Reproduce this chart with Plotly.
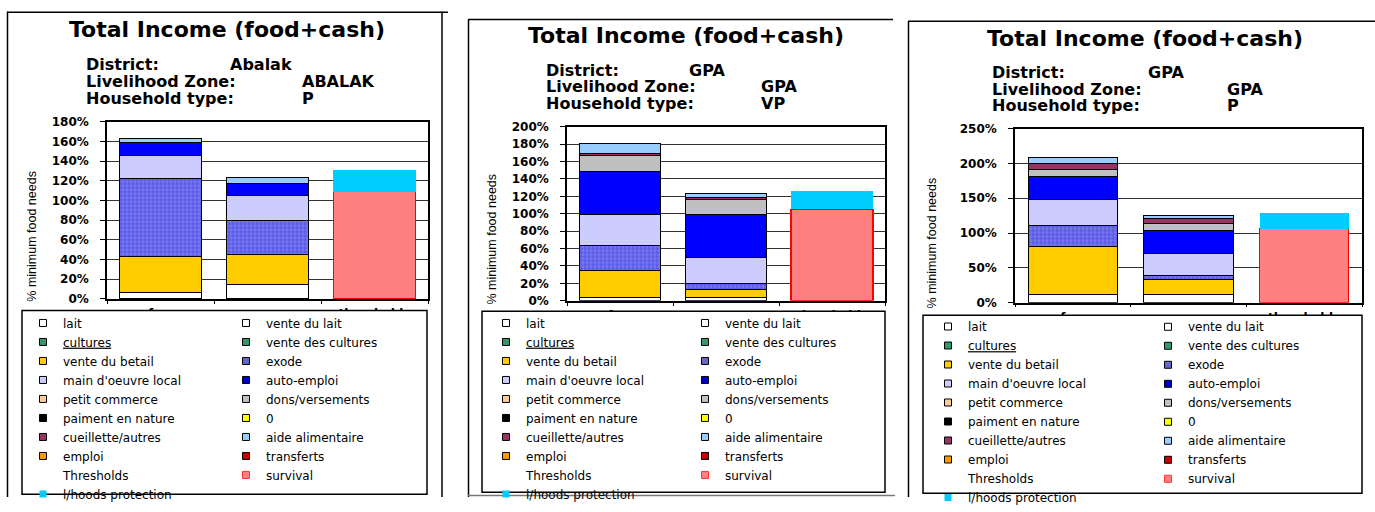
import plotly.graph_objects as go

W, H = 1375, 512

categories = ["ref.year", "curr.year", "thresholds"]
sources = ["lait", "vente du lait", "cultures", "vente des cultures", "vente du betail", "exode",
           "main d'oeuvre local", "auto-emploi", "petit commerce", "dons/versements",
           "paiment en nature", "0", "cueillette/autres", "aide alimentaire", "emploi", "transferts"]
threshold_names = ["survival", "l/hoods protection"]

# values in % of minimum food needs (order of `sources`)
abalak_p_ref = [7, 0, 0, 0, 36.5, 79, 23.5, 13.5, 0, 0, 0, 0, 0, 4, 0, 0]
abalak_p_curr = [14.5, 0, 0, 0, 30.5, 35, 25, 12, 0, 0, 0, 0, 0, 6, 0, 0]
abalak_p_thr = [109, 22]

gpa_vp_ref = [3.5, 0, 0, 0, 31, 29.5, 35.5, 49.5, 0, 18, 0, 0, 2.5, 11, 0, 0]
gpa_vp_curr = [3.5, 0, 0, 0, 9.5, 7, 30, 49.5, 0, 16.5, 0, 0, 2.5, 5, 0, 0]
gpa_vp_thr = [105, 21.5]

gpa_p_ref = [12, 0, 0, 0, 68, 30.5, 38, 32.5, 0, 10, 0, 0, 8.5, 9, 0, 0]
gpa_p_curr = [12, 0, 0, 0, 22, 5, 31, 34, 0, 9, 0, 0, 8, 4.5, 0, 0]
gpa_p_thr = [106.5, 22]

district = ["Abalak", "GPA", "GPA"]
zone = ["ABALAK", "GPA", "GPA"]
hh_type = ["P", "VP", "P"]
y_max = [180, 200, 250]
y_step = [20, 20, 50]

colors = ["#FFFFFF", "#FFFFFF", "#339966", "#339966", "#FFCC00", "#7070EE",
          "#CCCCFF", "#0000FF", "#FFCC99", "#C0C0C0", "#000000", "#FFFF00",
          "#993366", "#99CCFF", "#FF9900", "#FF0000"]
legend_colors = ["#FFFFFF", "#FFFFFF", "#339966", "#339966", "#FFCC00", "#6666CC",
                 "#CCCCFF", "#0000CC", "#FFCC99", "#C0C0C0", "#000000", "#FFFF00",
                 "#993366", "#99CCFF", "#FF9900", "#CC0000"]
thr_colors = ["#FF8080", "#00CCFF"]

panel_data = [(abalak_p_ref, abalak_p_curr, abalak_p_thr),
              (gpa_vp_ref, gpa_vp_curr, gpa_vp_thr),
              (gpa_p_ref, gpa_p_curr, gpa_p_thr)]

# layout geometry (pixels)
plot_box = [(107, 120, 428, 305), (567, 125, 885, 307), (1015, 127, 1362, 309)]
title_pos = [(227, 24), (686, 30), (1145, 33)]
sub_x = [(84, 228, 300), (544, 687, 759), (990, 1146, 1225)]
sub_y = [(60, 78, 96), (66, 83.5, 101), (68, 86, 103)]
ytitle_pos = [(32, 240), (492, 243), (932, 246)]
legend_box = [(22, 317, 427, 509), (482, 318, 885, 507), (923, 322, 1362, 508)]
legend_row1 = [326, 326, 330]
legend_cols = [(47, 250), (510, 709), (952, 1172)]


def X(px):
    return px / W


def Y(py):
    return 1 - py / H


fig = go.Figure()
layout = dict(width=W, height=H, margin=dict(l=0, r=0, t=0, b=0, pad=0),
              paper_bgcolor="white", plot_bgcolor="white", barmode="stack",
              bargap=0.23, showlegend=True, font=dict(family="DejaVu Sans", color="black"))
shapes = []
annotations = []

tick_font = dict(family="DejaVu Sans", size=12, color="black", weight="bold")

for k in range(3):
    s = "" if k == 0 else str(k + 1)
    xa, ya = "x" + s, "y" + s
    ref, curr, thr = panel_data[k]
    x0, y0, x1, y1 = plot_box[k]
    layout["xaxis" + s] = dict(domain=[X(x0), X(x1)], anchor=ya, type="category",
                               categoryorder="array", categoryarray=categories,
                               showline=True, mirror=True, linecolor="black", linewidth=1.5,
                               ticks="outside", tickson="boundaries", ticklen=3,
                               tickcolor="black", tickfont=tick_font, showgrid=False,
                               ticklabelstandoff=3, fixedrange=True)
    layout["yaxis" + s] = dict(domain=[Y(y1), Y(y0)], anchor=xa, range=[0, y_max[k]],
                               dtick=y_step[k], tick0=0, ticksuffix="%", showgrid=True,
                               gridcolor="#333333", gridwidth=1, showline=True, mirror=True,
                               linecolor="black", linewidth=1.5, ticks="outside", ticklen=5,
                               tickcolor="black", tickfont=tick_font, zeroline=False,
                               ticklabelstandoff=9, fixedrange=True)
    # income bars
    for i, name in enumerate(sources):
        if ref[i] == 0 and curr[i] == 0:
            continue
        marker = dict(color=colors[i], line=dict(color="black", width=1))
        if name == "exode":
            marker["pattern"] = dict(shape="+", bgcolor="#7878F0", fgcolor="#4A4AE0",
                                     size=4, solidity=0.35, fillmode="replace")
        fig.add_trace(go.Bar(x=categories,
                             y=[ref[i] or None, curr[i] or None, None],
                             name=name, marker=marker, showlegend=False,
                             xaxis=xa, yaxis=ya, hoverinfo="skip"))
    # threshold bars
    for j, name in enumerate(threshold_names):
        line = dict(color="#FF0000", width=1.5) if j == 0 else dict(width=0)
        fig.add_trace(go.Bar(x=categories, y=[None, None, thr[j]], name=name,
                             marker=dict(color=thr_colors[j], line=line),
                             showlegend=False, xaxis=xa, yaxis=ya, hoverinfo="skip"))

    # legend entries (two columns)
    entries = [(n, legend_colors[i]) for i, n in enumerate(sources)]
    entries += [("Thresholds", None), ("survival", "#FF8080"), ("l/hoods protection", "#00CCFF")]
    lg_left = "legend" + ("" if k == 0 else str(2 * k + 1))
    lg_right = "legend" + str(2 * k + 2)
    for j, (n, c) in enumerate(entries):
        if c is None:
            mk = dict(symbol="square", size=7, color="rgba(0,0,0,0)", line=dict(width=0))
        elif n == "survival":
            mk = dict(symbol="square", size=7, color=c, line=dict(color="#FF3333", width=1))
        elif n == "l/hoods protection":
            mk = dict(symbol="square", size=7, color=c, line=dict(width=0))
        else:
            mk = dict(symbol="square", size=7, color=c, line=dict(color="black", width=1))
        label = "<u>cultures</u>" if n == "cultures" else n
        fig.add_trace(go.Scatter(x=[None], y=[None], mode="markers", marker=mk, name=label,
                                 legend=lg_left if j % 2 == 0 else lg_right,
                                 xaxis=xa, yaxis=ya, hoverinfo="skip"))
    for lg, cx in ((lg_left, legend_cols[k][0]), (lg_right, legend_cols[k][1])):
        layout[lg] = dict(x=X(cx - 24), y=Y(legend_row1[k] - 11), xanchor="left", yanchor="top",
                          orientation="v", bgcolor="rgba(0,0,0,0)", borderwidth=0,
                          font=dict(family="DejaVu Sans", size=12, color="black"),
                          traceorder="normal", itemclick=False, itemdoubleclick=False)

    # legend box (covers the clipped category labels)
    bx0, by0, bx1, by1 = legend_box[k]
    shapes.append(dict(type="rect", xref="paper", yref="paper", x0=X(bx0), x1=X(bx1),
                       y0=Y(by1), y1=Y(by0), fillcolor="white",
                       line=dict(color="black", width=1.5), layer="above"))

    # titles
    tx, ty = title_pos[k]
    annotations.append(dict(x=X(tx), y=Y(ty), xref="paper", yref="paper", showarrow=False,
                            text="Total Income (food+cash)", xanchor="center", yanchor="middle",
                            font=dict(family="DejaVu Sans", size=22, color="black", weight="bold")))
    lx, vx1, vx2 = sub_x[k]
    for row, (lab, val, vx) in enumerate((("District:", district[k], vx1),
                                          ("Livelihood Zone:", zone[k], vx2),
                                          ("Household type:", hh_type[k], vx2))):
        yy = sub_y[k][row]
        for txt, xx in ((lab, lx), (val, vx)):
            annotations.append(dict(x=X(xx), y=Y(yy), xref="paper", yref="paper",
                                    showarrow=False, text=txt, xanchor="left",
                                    yanchor="middle",
                                    font=dict(family="DejaVu Sans", size=16, color="black",
                                              weight="bold")))
    ax_, ay_ = ytitle_pos[k]
    annotations.append(dict(x=X(ax_), y=Y(ay_), xref="paper", yref="paper", showarrow=False,
                            text="% minimum food needs", textangle=-90, xanchor="center",
                            yanchor="middle",
                            font=dict(family="Liberation Sans", size=12.5, color="black")))

# panel borders
def hline(x0, x1, y, color="black", w=1.5):
    shapes.append(dict(type="line", xref="paper", yref="paper", x0=X(x0), x1=X(x1),
                       y0=Y(y), y1=Y(y), line=dict(color=color, width=w)))


def vline(x, y0, y1, color="black", w=1.5):
    shapes.append(dict(type="line", xref="paper", yref="paper", x0=X(x), x1=X(x),
                       y0=Y(y0), y1=Y(y1), line=dict(color=color, width=w)))


hline(7, 448, 5.5)
vline(7.5, 5, 512)
vline(442, 5, 512)
hline(468, 893, 13)
vline(468.5, 13, 512)
hline(468, 895, 510.5, color="#777777")
hline(908, 1375, 15)
vline(908.5, 15, 512)

layout["shapes"] = shapes
layout["annotations"] = annotations
fig.update_layout(**layout)
fig.write_html("out.html", config={"displayModeBar": False},
               post_script="document.body.style.margin='0';")
